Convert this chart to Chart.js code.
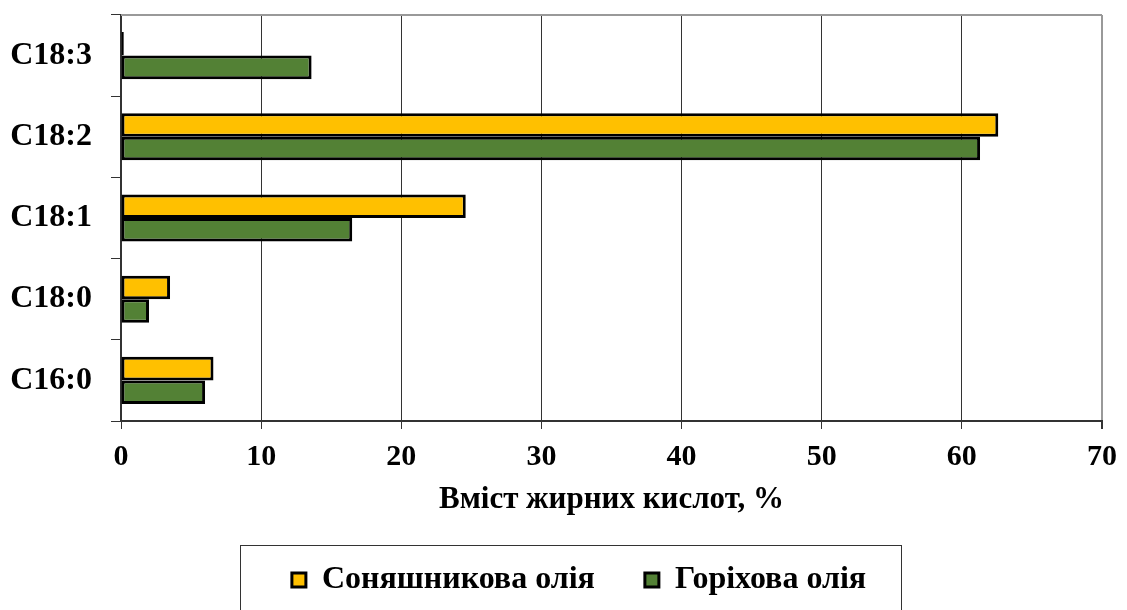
<!DOCTYPE html>
<html lang="uk">
<head>
<meta charset="utf-8">
<title>Вміст жирних кислот</title>
<script src="https://cdn.jsdelivr.net/npm/chart.js@4/dist/chart.umd.min.js"></script>
<style>
  html, body { margin: 0; padding: 0; background: #fff; }
  #wrap { width: 1127px; height: 610px; }
</style>
</head>
<body>
<div id="wrap"><canvas id="fattyChart" width="1127" height="610"></canvas></div>
<script>
// fatty acid content, % of total
const acids = ['C18:3', 'C18:2', 'C18:1', 'C18:0', 'C16:0'];
const sunflowerOil = [0.2, 62.6, 24.6, 3.5, 6.6];
const walnutOil = [13.6, 61.3, 16.5, 2.0, 6.0];
const seriesNames = ['Соняшникова олія', 'Горіхова олія'];
const xTicks = [0, 10, 20, 30, 40, 50, 60, 70];

const serif = "'Liberation Serif', 'Times New Roman', serif";

// nudge the legend row a little to the right of the canvas centre
const legendShift = {
    id: 'legendShift',
    afterLayout(chart) {
        if (chart.legend) {
            chart.legend.left += 26;
            chart.legend.right += 26;
        }
    }
};

// grey frame on top of plot + box round the legend
const frame = {
    id: 'frame',
    afterDraw(chart) {
        const { ctx, chartArea: a } = chart;
        ctx.save();
        ctx.strokeStyle = '#999';
        ctx.lineWidth = 2;
        ctx.beginPath();
        ctx.moveTo(a.left, a.top);
        ctx.lineTo(a.right, a.top);
        ctx.stroke();

        const boxes = chart.legend.legendHitBoxes;
        if (boxes && boxes.length) {
            const first = boxes[0];
            const last = boxes[boxes.length - 1];
            const midY = first.top + first.height / 2;
            const x0 = first.left - 52;
            const x1 = last.left + last.width + 35;
            ctx.strokeStyle = '#333';
            ctx.lineWidth = 1;
            ctx.strokeRect(Math.round(x0) + 0.5, Math.round(midY - 35) + 0.5, Math.round(x1 - x0), 100);
        }
        ctx.restore();
    }
};

new Chart(document.getElementById('fattyChart').getContext('2d'), {
    type: 'bar',
    data: {
        labels: acids,
        datasets: [{
            label: seriesNames[0],
            data: sunflowerOil,
            backgroundColor: '#FFC000',
            borderColor: '#000',
            borderWidth: 3,
            borderSkipped: false
        }, {
            label: seriesNames[1],
            data: walnutOil,
            backgroundColor: '#538135',
            borderColor: '#000',
            borderWidth: 3,
            borderSkipped: false
        }]
    },
    options: {
        indexAxis: 'y',
        responsive: false,
        animation: false,
        categoryPercentage: 0.58,
        barPercentage: 1.0,
        layout: { padding: { top: 15, right: 21, left: 0, bottom: 4 } },
        plugins: {
            tooltip: { enabled: false },
            legend: {
                position: 'bottom',
                labels: {
                    color: '#000',
                    font: { family: serif, size: 32, weight: 'bold' },
                    boxWidth: 14,
                    boxHeight: 14,
                    padding: 50
                }
            }
        },
        scales: {
            x: {
                min: 0,
                max: 70,
                afterFit(scale) { scale.height = 93; },
                afterBuildTicks(scale) { scale.ticks = xTicks.map(v => ({ value: v })); },
                ticks: {
                    color: '#000',
                    padding: 10,
                    font: { family: serif, size: 30, weight: 'bold' }
                },
                grid: {
                    color: ctx => ctx.tick && ctx.tick.value === 70 ? '#999' : '#333',
                    lineWidth: ctx => ctx.tick && ctx.tick.value === 70 ? 2 : 1,
                    tickColor: '#333',
                    tickLength: 8
                },
                border: { color: '#333', width: 2 },
                title: {
                    display: true,
                    text: 'Вміст жирних кислот, %',
                    color: '#000',
                    font: { family: serif, size: 31, weight: 'bold' },
                    padding: { top: 0, bottom: -5 }
                }
            },
            y: {
                afterFit(scale) {
                    scale.width = 121;
                    scale.paddingTop = 0;
                    scale.paddingBottom = 0;
                },
                ticks: {
                    color: '#000',
                    padding: 19,
                    font: { family: serif, size: 32, weight: 'bold' }
                },
                grid: {
                    drawOnChartArea: false,
                    color: '#333',
                    tickLength: 10
                },
                border: { color: '#333', width: 2 }
            }
        }
    },
    plugins: [legendShift, frame]
});
</script>
</body>
</html>
